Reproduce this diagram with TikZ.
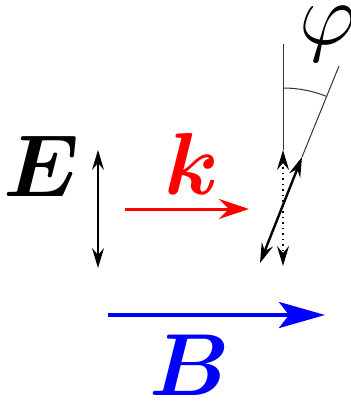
\documentclass[tikz,border=0pt]{standalone}
\usepackage{amsmath,bm}
\usepackage{tikz}
\usetikzlibrary{arrows.meta}
\tikzset{
  vec-label/.style={anchor=base, inner sep=0pt, font=\Huge, scale=1.77, transform shape},
  pol-arrow/.style={{Stealth[length=10pt,width=6pt,inset=3.5pt]}-{Stealth[length=10pt,width=6pt,inset=3.5pt]}, line width=0.75pt},
  guide-line/.style={line width=0.5pt, draw=black!80}
}
\begin{document}
\begin{tikzpicture}[x=0.5pt, y=-0.5pt]
\useasboundingbox (0,0) rectangle (351,405);
% labels
\node[vec-label] (elab) at (42,197) {$\bm{E}$};
\node[vec-label, text=red] (klab) at (192,195) {$\bm{k}$};
\node[vec-label, text=blue] (blab) at (190,395) {$\bm{B}$};
\node[vec-label] (philab) at (328,45) {$\varphi$};

% field E
\coordinate (e-top) at (98,150);
\coordinate (e-bot) at (98,268);
\draw[pol-arrow] (e-top) -- (e-bot);

% wave vector k
\coordinate (k-start) at (125,209);
\coordinate (k-end) at (249,209);
\draw[-{Stealth[length=15pt,width=10pt,inset=5pt]}, line width=1.5pt, red] (k-start) -- (k-end);

% field B
\coordinate (b-start) at (108,315);
\coordinate (b-end) at (325,315);
\draw[-{Stealth[length=23pt,width=13pt,inset=5pt]}, line width=2pt, blue] (b-start) -- (b-end);

% rotated polarisation
\coordinate (v-top) at (283,44);
\coordinate (d-top) at (283,150);
\coordinate (d-bot) at (283,266);
\coordinate (s-top) at (302,157);
\coordinate (s-bot) at (260,263);
\coordinate (s-far) at (339,66);
\coordinate (arc-start) at (283,88);
\draw[guide-line] (v-top) -- (d-top);
\draw[guide-line] (s-top) -- (s-far);
\draw[guide-line] (arc-start) arc[start angle=-90, end angle=-68, radius=117];
\draw[pol-arrow, dotted, line width=1pt] (d-top) -- (d-bot);
\draw[pol-arrow, line width=1.2pt] (s-bot) -- (s-top);
\end{tikzpicture}
\end{document}
